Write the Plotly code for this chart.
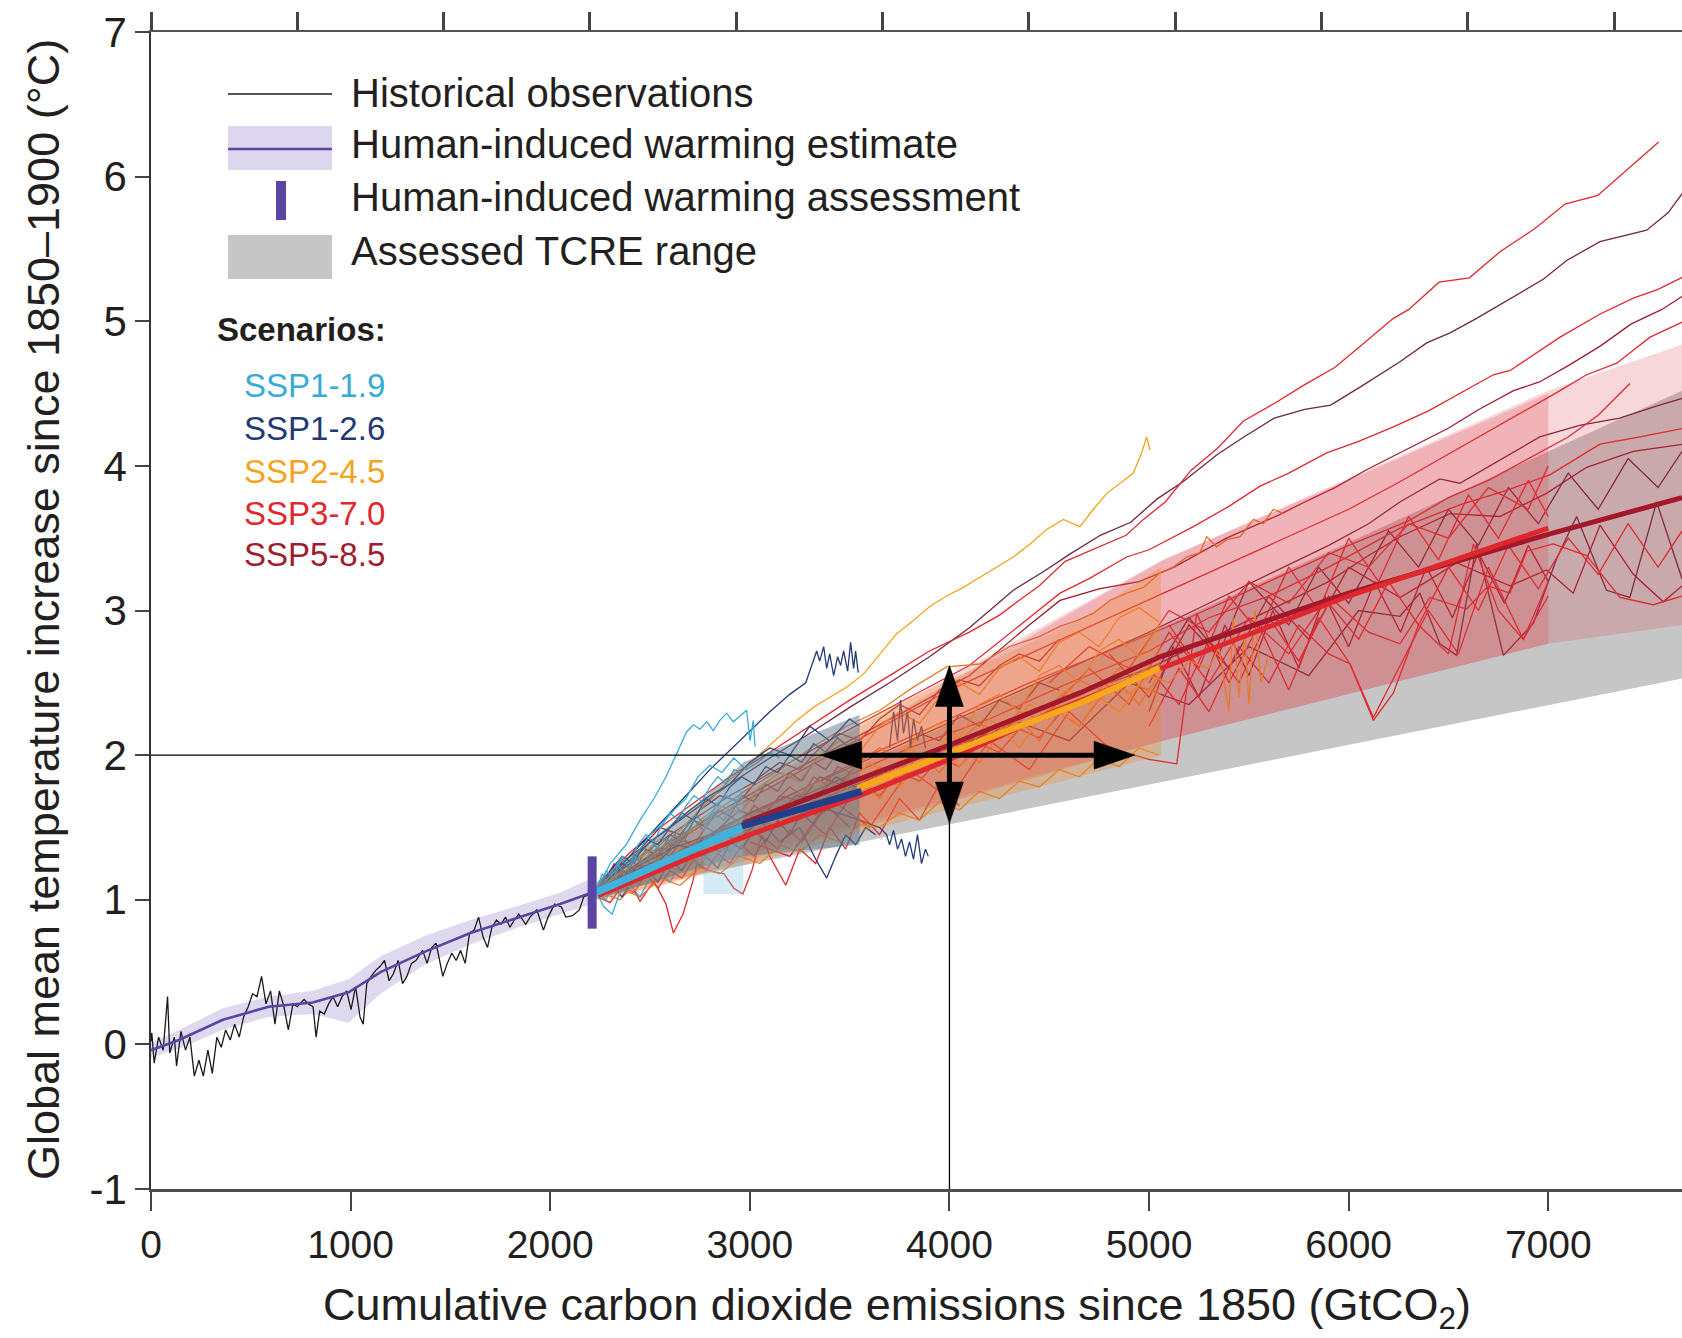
import plotly.graph_objects as go

# ------------------------------------------------------------------ data
# Historical observations (cumulative CO2 since 1850, GtCO2 -> warming degC)
HIST_X = [0, 4, 16, 38, 61, 83, 94, 117, 128, 150, 173, 195, 217, 240, 262, 285, 307, 330, 352, 374,
          397, 419, 442, 464, 487, 509, 531, 554, 576, 599, 621, 643, 666, 688, 711, 733, 767, 789, 812, 827,
          845, 868, 890, 912, 935, 957, 980, 1002, 1025, 1047, 1063, 1081, 1103, 1125, 1148, 1170, 1193, 1215, 1238, 1260,
          1282, 1305, 1327, 1361, 1383, 1406, 1428, 1462, 1484, 1507, 1529, 1551, 1574, 1596, 1619, 1641, 1664, 1686, 1708, 1731,
          1753, 1776, 1798, 1820, 1843, 1877, 1899, 1933, 1966, 1989, 2022, 2056, 2078, 2112, 2146, 2168, 2202]
HIST_Y = [0.02, 0.08, -0.13, 0.05, -0.04, 0.33, -0.06, 0.05, -0.15, 0.09, -0.04, 0.05, -0.22, -0.11, -0.22, -0.04, -0.20, 0.05, -0.02, 0.10,
          0.03, 0.14, 0.05, 0.19, 0.26, 0.35, 0.33, 0.47, 0.28, 0.37, 0.14, 0.37, 0.26, 0.10, 0.28, 0.26, 0.31, 0.28, 0.26, 0.05,
          0.23, 0.21, 0.28, 0.33, 0.26, 0.33, 0.37, 0.24, 0.40, 0.19, 0.14, 0.42, 0.47, 0.51, 0.54, 0.58, 0.44, 0.49, 0.58, 0.42,
          0.47, 0.56, 0.58, 0.65, 0.56, 0.67, 0.70, 0.47, 0.56, 0.63, 0.58, 0.65, 0.56, 0.77, 0.79, 0.88, 0.74, 0.67, 0.81, 0.86,
          0.83, 0.88, 0.81, 0.86, 0.90, 0.83, 0.88, 0.93, 0.79, 0.88, 0.97, 0.95, 0.88, 0.89, 0.93, 1.02, 1.04]

# Human-induced warming estimate and its range
EST_X = [0, 140, 360, 590, 810, 990, 1150, 1370, 1600, 1820, 2050, 2210]
EST_Y = [-0.04, 0.03, 0.17, 0.26, 0.29, 0.36, 0.50, 0.64, 0.77, 0.87, 0.97, 1.05]
EST_LO = [-0.09, -0.03, 0.10, 0.19, 0.21, 0.15, 0.35, 0.55, 0.69, 0.80, 0.90, 0.97]
EST_HI = [0.01, 0.10, 0.25, 0.33, 0.37, 0.45, 0.61, 0.75, 0.86, 0.95, 1.05, 1.15]

# Human-induced warming assessment (vertical bar)
ASSESS_X = [2210, 2210]
ASSESS_Y = [0.80, 1.30]

# Assessed TCRE range (wedge)
TCRE_X = [2210, 7670]
TCRE_LO = [1.03, 2.53]
TCRE_HI = [1.09, 4.52]

# Scenario ranges (shaded)
BAND119_X = [2767, 2968]
BAND119_LO = [1.04, 1.04]
BAND119_HI = [1.60, 1.85]
BAND126_X = [2230, 2767, 2968, 3550]
BAND126_LO = [1.00, 1.23, 1.30, 1.38]
BAND126_HI = [1.12, 1.70, 1.95, 2.28]
BAND245_X = [2250, 3000, 3650, 4650, 5060]
BAND245_LO = [1.00, 1.25, 1.50, 1.85, 2.00]
BAND245_HI = [1.12, 1.75, 2.30, 2.93, 3.30]
BAND370_X = [2300, 5070, 7000]
BAND370_LO = [1.00, 2.10, 2.77]
BAND370_HI = [1.15, 3.35, 4.50]
BAND585_X = [2960, 5070, 7000, 7670]
BAND585_LO = [1.30, 2.10, 2.77, 2.90]
BAND585_HI = [1.75, 3.35, 4.52, 4.84]

# Scenario central estimates (thick lines)
MEAN119_X = [2230, 2500, 2750, 2960]
MEAN119_Y = [1.05, 1.21, 1.37, 1.50]
MEAN126_X = [2960, 3200, 3400, 3560]
MEAN126_Y = [1.51, 1.61, 1.69, 1.75]
MEAN245_X = [3540, 4000, 4654, 5055]
MEAN245_Y = [1.77, 2.01, 2.36, 2.60]
MEAN370_X = [2240, 2700, 3000, 3550, 4000, 4500, 5060, 6000, 7000]
MEAN370_Y = [1.03, 1.29, 1.45, 1.72, 1.97, 2.29, 2.60, 3.10, 3.57]
MEAN585_X = [2967, 3552, 4000, 4654, 5055, 6000, 7008, 7670]
MEAN585_Y = [1.53, 1.84, 2.07, 2.43, 2.68, 3.12, 3.53, 3.78]

# shared x grids of some model runs
XF = [2240, 2300, 2360, 2420, 2480, 2540, 2600, 2660, 2720, 2780, 2840,
      2900, 2960, 3020, 3080, 3140, 3200, 3260, 3320, 3380, 3440, 3500]
XF19 = [2240, 2280, 2320, 2360, 2400, 2440, 2480, 2520, 2560, 2600,
        2640, 2680, 2720, 2760, 2800, 2840, 2880, 2920, 2960]
X45 = [2250, 2350, 2450, 2550, 2650, 2750, 2850, 2950, 3050, 3150, 3250, 3350, 3450, 3550, 3650,
       3750, 3850, 3950, 4050, 4150, 4250, 4350, 4450, 4550, 4650, 4750, 4850, 4950, 5050]
XM = [2250, 2350, 2450, 2550, 2650, 2750, 2850, 2950, 3050, 3150, 3250, 3350,
      3450, 3550, 3650, 3750, 3850, 3950, 4050, 4150, 4250, 4350, 4450, 4550]

# Individual model runs -- SSP1-1.9
SSP119_RUNS = [
    ([2230, 2300, 2380, 2450, 2520, 2580, 2630, 2683, 2717, 2750, 2784, 2817, 2850, 2884, 2917, 2951, 2984, 3001, 3017, 3026],
     [1.05, 1.25, 1.38, 1.55, 1.70, 1.85, 2.00, 2.16, 2.21, 2.18, 2.23, 2.17, 2.24, 2.29, 2.23, 2.27, 2.31, 2.10, 2.24, 2.06]),
    ([2230, 2290, 2350, 2400, 2450, 2500, 2560, 2620, 2680, 2740, 2800, 2860, 2920, 2980, 3040, 3100, 3150],
     [1.05, 1.15, 1.28, 1.22, 1.35, 1.45, 1.52, 1.62, 1.70, 1.85, 1.93, 1.88, 1.98, 1.90, 1.95, 2.02, 1.98]),
    ([2230, 2280, 2330, 2380, 2430, 2480, 2530, 2580, 2630, 2680, 2730, 2780, 2830, 2880, 2930, 2960],
     [1.05, 1.12, 1.05, 1.20, 1.28, 1.22, 1.35, 1.42, 1.38, 1.50, 1.58, 1.52, 1.65, 1.72, 1.68, 1.75]),
    ([2230, 2270, 2310, 2350, 2400, 2450, 2500, 2550, 2600, 2650, 2700, 2750, 2800, 2850, 2900, 2950],
     [1.05, 0.95, 0.90, 1.05, 1.10, 1.02, 1.15, 1.20, 1.12, 1.25, 1.30, 1.22, 1.35, 1.40, 1.33, 1.42]),
    ([2230, 2260, 2300, 2340, 2380, 2420, 2470, 2520, 2570, 2620, 2670, 2720, 2770, 2820, 2870, 2920, 2960],
     [1.05, 1.18, 1.08, 1.25, 1.15, 1.30, 1.25, 1.38, 1.32, 1.45, 1.40, 1.55, 1.48, 1.60, 1.55, 1.66, 1.60]),
    (XF19, [1.05, 1.00, 1.12, 1.06, 1.18, 1.10, 1.22, 1.16, 1.28, 1.20, 1.32, 1.25, 1.38, 1.30, 1.42, 1.35, 1.45, 1.40, 1.50]),
    (XF19, [1.08, 1.20, 1.15, 1.30, 1.25, 1.38, 1.45, 1.40, 1.52, 1.60, 1.55, 1.65, 1.72, 1.68, 1.78, 1.85, 1.80, 1.90, 1.88]),
]

# SSP1-2.6
SSP126_RUNS = [
    ([2230, 2400, 2600, 2800, 2950, 3100, 3200, 3280, 3335, 3350, 3370, 3385, 3400, 3420, 3440, 3455, 3470, 3490, 3505, 3520, 3530, 3543],
     [1.05, 1.30, 1.60, 1.90, 2.10, 2.30, 2.42, 2.50, 2.72, 2.65, 2.75, 2.60, 2.70, 2.55, 2.68, 2.62, 2.72, 2.58, 2.78, 2.60, 2.72, 2.57]),
    ([2230, 2400, 2600, 2800, 3000, 3200, 3400, 3550, 3650, 3685, 3700, 3720, 3740, 3760, 3780, 3800, 3820, 3840, 3860, 3880, 3894],
     [1.05, 1.20, 1.35, 1.45, 1.55, 1.60, 1.62, 1.55, 1.50, 1.45, 1.38, 1.48, 1.35, 1.42, 1.30, 1.40, 1.28, 1.45, 1.25, 1.35, 1.30]),
    ([2230, 2350, 2500, 2650, 2800, 2950, 3050, 3150, 3250, 3330, 3385, 3430, 3480, 3530, 3580, 3630],
     [1.05, 1.15, 1.25, 1.30, 1.45, 1.42, 1.55, 1.40, 1.50, 1.28, 1.15, 1.30, 1.45, 1.38, 1.50, 1.45]),
    ([2230, 2300, 2400, 2500, 2600, 2700, 2800, 2900, 3000, 3100, 3200, 3300, 3400, 3500, 3550],
     [1.05, 1.15, 1.25, 1.40, 1.50, 1.62, 1.72, 1.80, 1.95, 2.05, 2.00, 2.20, 2.10, 2.25, 2.20]),
    ([2230, 2330, 2430, 2530, 2630, 2730, 2830, 2930, 3030, 3130, 3230, 3330, 3430, 3530],
     [1.05, 1.10, 1.20, 1.25, 1.38, 1.35, 1.48, 1.55, 1.62, 1.58, 1.72, 1.70, 1.85, 1.78]),
    ([3700, 3720, 3740, 3755, 3770, 3790, 3805, 3820, 3840, 3860, 3880],
     [2.05, 2.30, 2.10, 2.38, 2.15, 2.30, 2.05, 2.25, 2.10, 2.20, 2.05]),
    (XF, [1.05, 1.12, 1.02, 1.15, 1.22, 1.12, 1.28, 1.20, 1.35, 1.30, 1.22,
          1.40, 1.35, 1.48, 1.40, 1.55, 1.45, 1.60, 1.52, 1.65, 1.58, 1.70]),
    (XF, [1.10, 1.20, 1.30, 1.25, 1.42, 1.38, 1.50, 1.60, 1.55, 1.70, 1.65,
          1.78, 1.85, 1.80, 1.92, 1.88, 2.00, 1.95, 2.08, 2.02, 2.12, 2.05]),
]

# SSP2-4.5
SSP245_RUNS = [
    ([2249, 2316, 2400, 2483, 2567, 2650, 2733, 2817, 2900, 2984, 3068, 3151, 3235, 3318, 3401, 3485, 3569, 3652, 3736, 3819,
      3903, 3986, 4070, 4153, 4237, 4320, 4404, 4487, 4571, 4654, 4721, 4788, 4855, 4921, 4963, 4988, 5005],
     [1.07, 1.16, 1.25, 1.32, 1.37, 1.48, 1.60, 1.71, 1.83, 1.92, 2.03, 2.13, 2.24, 2.33, 2.40, 2.47, 2.56, 2.70, 2.84, 2.93,
      3.03, 3.10, 3.16, 3.23, 3.30, 3.37, 3.46, 3.56, 3.63, 3.58, 3.70, 3.81, 3.88, 3.95, 4.09, 4.20, 4.11]),
    ([2249, 2316, 2483, 2650, 2817, 2984, 3151, 3318, 3485, 3652, 3819, 3986, 4153, 4300, 4450, 4554, 4638, 4721, 4805, 4888,
      4972, 5055, 5122, 5189, 5255, 5289, 5339, 5389, 5456, 5523, 5573, 5623, 5673],
     [1.05, 1.13, 1.27, 1.43, 1.60, 1.76, 1.90, 2.06, 2.20, 2.31, 2.47, 2.61, 2.63, 2.75, 2.82, 2.89, 2.93, 2.98, 3.07, 3.12,
      3.16, 3.26, 3.30, 3.37, 3.40, 3.51, 3.44, 3.49, 3.51, 3.63, 3.60, 3.70, 3.67]),
    (X45, [1.05, 1.12, 1.22, 1.18, 1.35, 1.42, 1.38, 1.55, 1.62, 1.58, 1.75, 1.82, 1.78, 1.95, 2.05,
           1.98, 2.15, 2.22, 2.12, 2.35, 2.42, 2.30, 2.55, 2.62, 2.50, 2.72, 2.80, 2.68, 2.90]),
    (X45, [1.05, 1.00, 1.15, 1.25, 1.20, 1.32, 1.45, 1.40, 1.50, 1.62, 1.55, 1.70, 1.65, 1.80, 1.92,
           1.85, 2.00, 1.95, 2.10, 2.22, 2.15, 2.30, 2.25, 2.40, 2.52, 2.45, 2.60, 2.55, 2.70]),
    (X45, [1.05, 1.15, 1.10, 1.22, 1.30, 1.25, 1.40, 1.52, 1.45, 1.60, 1.55, 1.68, 1.80, 1.72, 1.85,
           1.78, 1.95, 2.05, 1.92, 2.10, 2.20, 2.05, 2.25, 2.35, 2.20, 2.40, 2.30, 2.48, 2.42]),
    (X45, [1.00, 1.08, 1.02, 1.15, 1.10, 1.22, 1.18, 1.30, 1.25, 1.38, 1.33, 1.45, 1.40, 1.52, 1.50,
           1.60, 1.55, 1.68, 1.62, 1.75, 1.70, 1.82, 1.78, 1.90, 1.85, 1.98, 1.92, 2.05, 2.00]),
    (X45, [1.08, 1.20, 1.30, 1.42, 1.38, 1.55, 1.65, 1.60, 1.78, 1.88, 1.82, 2.00, 2.10, 2.02, 2.20,
           2.30, 2.22, 2.40, 2.50, 2.42, 2.60, 2.68, 2.58, 2.78, 2.85, 2.75, 2.95, 3.02, 2.92]),
    (X45, [1.05, 1.10, 1.20, 1.30, 1.25, 1.35, 1.48, 1.42, 1.55, 1.50, 1.65, 1.60, 1.75, 1.85, 1.70,
           1.90, 2.00, 1.88, 2.05, 1.95, 2.15, 2.25, 2.10, 2.30, 2.20, 2.38, 2.50, 2.35, 2.55]),
    ([3500, 3600, 3700, 3800, 3900, 4000, 4100, 4200, 4300, 4400, 4500, 4600, 4700, 4800, 4900, 5000, 5100, 5200, 5300, 5350,
      5400, 5420, 5450, 5480, 5500, 5530, 5560, 5600],
     [1.80, 1.95, 1.85, 2.05, 1.95, 2.15, 2.05, 2.25, 2.15, 2.35, 2.25, 2.45, 2.35, 2.50, 2.42, 2.55, 2.50, 2.65, 2.60, 2.75,
      2.30, 2.95, 2.40, 2.85, 2.35, 3.00, 2.50, 2.70]),
    (XF, [1.05, 1.15, 1.08, 1.22, 1.15, 1.30, 1.22, 1.35, 1.30, 1.42, 1.38,
          1.50, 1.45, 1.58, 1.52, 1.65, 1.60, 1.72, 1.68, 1.80, 1.75, 1.85]),
]

# SSP3-7.0
SSP370_RUNS = [
    ([2300, 2500, 2700, 2900, 3100, 3300, 3500, 3700, 3900, 4100, 4253, 4340, 4449, 4580, 4732, 4885, 4972, 5081, 5211, 5342,
      5473, 5625, 5778, 5930, 6061, 6224, 6300, 6453, 6605, 6758, 6932, 7084, 7248, 7389, 7553],
     [1.20, 1.45, 1.65, 1.85, 2.02, 2.20, 2.38, 2.55, 2.72, 2.85, 2.97, 3.06, 3.17, 3.34, 3.43, 3.52, 3.63, 3.75, 3.97, 4.12,
      4.31, 4.43, 4.56, 4.68, 4.83, 5.02, 5.08, 5.27, 5.30, 5.48, 5.64, 5.81, 5.87, 6.04, 6.24]),
    ([2300, 2600, 2900, 3200, 3500, 3800, 4100, 4400, 4554, 4700, 4888, 5000, 5222, 5400, 5556, 5700, 5890, 6050, 6224, 6400,
      6558, 6725, 6809, 6950, 7059, 7260, 7426, 7550, 7680],
     [1.15, 1.45, 1.72, 1.95, 2.18, 2.40, 2.62, 2.95, 3.12, 3.22, 3.37, 3.42, 3.58, 3.72, 3.86, 3.95, 4.09, 4.17, 4.27, 4.38,
      4.50, 4.63, 4.66, 4.79, 4.89, 5.05, 5.16, 5.22, 5.31]),
    ([2400, 2800, 3200, 3600, 4000, 4400, 4800, 5200, 5600, 6000, 6257, 6424, 6591, 6758, 6925, 7059, 7192, 7343, 7510, 7680],
     [1.20, 1.55, 1.85, 2.15, 2.45, 2.70, 2.95, 3.20, 3.45, 3.70, 3.89, 4.02, 4.15, 4.28, 4.41, 4.52, 4.63, 4.71, 4.89, 5.00]),
    ([2400, 2800, 3200, 3600, 4000, 4400, 4800, 5200, 5600, 6000, 6300, 6500, 6700, 6900, 7100, 7250, 7409],
     [1.15, 1.45, 1.72, 2.00, 2.25, 2.50, 2.72, 2.95, 3.20, 3.45, 3.62, 3.78, 3.90, 4.05, 4.20, 4.35, 4.57]),
    ([3000, 3400, 3800, 4200, 4600, 5000, 5300, 5600, 5900, 6100, 6257, 6557, 6791, 7010, 7259, 7459, 7680],
     [1.55, 1.80, 2.05, 2.25, 2.50, 2.72, 2.95, 3.10, 3.30, 3.45, 3.57, 3.73, 3.83, 3.94, 4.15, 4.20, 4.26]),
    ([4500, 4700, 4900, 5100, 5300, 5500, 5700, 5900, 6100, 6300, 6500, 6700, 6900, 7000],
     [2.50, 2.75, 2.60, 3.00, 2.85, 3.20, 3.05, 3.40, 3.30, 3.60, 3.50, 3.85, 3.70, 4.00]),
    ([3000, 3200, 3400, 3600, 3800, 4000, 4200, 4400, 4600, 4800, 5000, 5139, 5239, 5400, 5550, 5700, 5850, 6007, 6124, 6224,
      6350, 6500, 6625, 6750, 6875, 7000],
     [1.40, 1.30, 1.70, 1.50, 1.90, 1.70, 2.10, 1.90, 2.30, 2.05, 1.97, 1.94, 2.98, 2.50, 2.90, 2.45, 2.95, 2.63, 2.24, 2.43,
      2.90, 2.70, 3.46, 3.00, 2.80, 3.20]),
    ([4500, 4700, 4900, 5100, 5300, 5500, 5700, 5900, 6100, 6257, 6407, 6591, 6700, 6808, 6892, 7025, 7192, 7359, 7526, 7670],
     [2.30, 2.60, 2.35, 2.85, 2.50, 2.95, 2.70, 3.10, 2.85, 2.77, 3.09, 3.01, 3.17, 3.12, 3.41, 3.46, 3.38, 3.09, 3.04, 3.10]),
    ([5000, 5150, 5300, 5450, 5600, 5750, 5900, 6007, 6124, 6250, 6400, 6550, 6700, 6875, 7000],
     [2.20, 2.60, 2.30, 2.75, 2.50, 2.90, 2.70, 2.63, 2.26, 2.60, 3.00, 2.70, 3.30, 2.80, 3.10]),
    ([5100, 5250, 5400, 5550, 5700, 5850, 6000, 6150, 6300, 6450, 6600, 6750, 6900, 7000],
     [2.90, 2.60, 3.10, 2.85, 3.30, 3.00, 3.50, 3.20, 3.65, 3.35, 3.80, 3.50, 3.90, 3.65]),
    ([5000, 5150, 5300, 5450, 5600, 5750, 5900, 6050, 6200, 6350, 6500, 6650, 6800, 6950, 7100, 7250, 7400, 7550, 7670],
     [2.60, 2.35, 2.80, 2.50, 2.95, 2.65, 3.05, 2.80, 3.20, 2.90, 3.30, 3.00, 3.45, 3.15, 3.50, 3.25, 3.60, 3.30, 3.55]),
    ([2240, 2320, 2370, 2450, 2520, 2580, 2617, 2665, 2715, 2735, 2800, 2870, 2920, 2965, 3010, 3060, 3100, 3180, 3250, 3330,
      3400, 3480, 3550, 3650, 3750, 3850, 3950, 4050],
     [1.05, 1.25, 1.20, 0.99, 1.13, 0.97, 0.77, 0.90, 1.13, 1.25, 1.20, 1.18, 1.08, 1.04, 1.20, 1.45, 1.30, 1.10, 1.35, 1.25,
      1.50, 1.35, 1.60, 1.45, 1.70, 1.55, 1.80, 1.65]),
    (XM, [1.05, 1.10, 1.22, 1.18, 1.30, 1.40, 1.33, 1.45, 1.55, 1.50, 1.62, 1.58,
          1.70, 1.80, 1.72, 1.88, 1.82, 1.98, 1.92, 2.08, 2.02, 2.18, 2.12, 2.28]),
    (XF, [1.02, 0.98, 1.10, 1.05, 1.18, 1.08, 1.20, 1.15, 1.28, 1.20, 1.32,
          1.25, 1.38, 1.30, 1.42, 1.35, 1.48, 1.40, 1.52, 1.45, 1.58, 1.50]),
    (XF, [1.05, 1.10, 1.20, 1.15, 1.28, 1.35, 1.30, 1.42, 1.38, 1.50, 1.45,
          1.58, 1.52, 1.65, 1.60, 1.70, 1.78, 1.72, 1.85, 1.80, 1.92, 1.88]),
]

# SSP5-8.5
SSP585_RUNS = [
    ([2300, 2500, 2700, 2900, 3100, 3300, 3500, 3700, 3900, 4100, 4320, 4472, 4603, 4756, 4908, 5039, 5170, 5344, 5475, 5627,
      5780, 5910, 6063, 6257, 6391, 6508, 6641, 6842, 6975, 7092, 7259, 7493, 7600, 7680],
     [1.15, 1.40, 1.60, 1.80, 1.98, 2.15, 2.33, 2.50, 2.68, 2.88, 3.14, 3.27, 3.39, 3.52, 3.61, 3.77, 3.89, 4.08, 4.20, 4.33,
      4.39, 4.42, 4.55, 4.72, 4.85, 4.92, 5.02, 5.18, 5.29, 5.42, 5.55, 5.63, 5.75, 5.90]),
    ([2300, 2600, 2900, 3200, 3500, 3800, 4100, 4400, 4554, 4750, 4950, 5126, 5257, 5388, 5518, 5649, 5780, 5932, 6085, 6216,
      6346, 6499, 6652, 6826, 6956, 7109, 7262, 7414, 7567, 7680],
     [1.12, 1.40, 1.65, 1.88, 2.10, 2.32, 2.55, 2.90, 3.07, 3.15, 3.20, 3.30, 3.40, 3.50, 3.58, 3.66, 3.75, 3.85, 3.97, 4.06,
      4.15, 4.26, 4.39, 4.52, 4.58, 4.70, 4.83, 4.98, 5.08, 5.18]),
    ([3000, 3400, 3800, 4200, 4600, 5000, 5300, 5600, 5900, 6100, 6257, 6457, 6557, 6757, 6957, 7157, 7357, 7557, 7680],
     [1.60, 1.85, 2.10, 2.35, 2.60, 2.85, 3.05, 3.25, 3.45, 3.60, 3.75, 3.91, 3.88, 4.04, 4.20, 4.28, 4.33, 4.42, 4.47]),
    ([3000, 3400, 3800, 4200, 4600, 5000, 5300, 5600, 5900, 6100, 6257, 6507, 6757, 6991, 7192, 7426, 7680],
     [1.50, 1.72, 1.95, 2.15, 2.40, 2.60, 2.80, 3.00, 3.20, 3.38, 3.51, 3.67, 3.65, 3.81, 3.99, 4.10, 4.15]),
    ([4000, 4300, 4600, 4900, 5200, 5500, 5800, 6050, 6257, 6357, 6457, 6541, 6641, 6775, 6925, 7042, 7142, 7292, 7409, 7543, 7670],
     [2.00, 2.25, 2.10, 2.50, 2.35, 2.75, 2.55, 3.00, 2.96, 3.12, 2.77, 2.69, 3.46, 2.69, 2.91, 3.36, 3.65, 3.14, 3.09, 3.75, 3.22]),
    ([4800, 5000, 5200, 5400, 5600, 5800, 6000, 6257, 6391, 6541, 6675, 6808, 6992, 7125, 7259, 7426, 7576, 7670],
     [2.70, 2.40, 2.90, 2.60, 3.10, 2.80, 3.30, 3.09, 3.20, 3.33, 3.25, 3.17, 3.28, 3.12, 3.59, 3.25, 3.06, 3.17]),
    ([5000, 5200, 5350, 5500, 5700, 5850, 6000, 6200, 6350, 6500, 6650, 6800, 6950, 7100, 7250, 7400, 7550, 7670],
     [2.50, 2.95, 2.70, 3.20, 2.90, 3.30, 3.05, 3.55, 3.30, 3.70, 3.45, 3.85, 3.60, 3.95, 3.70, 4.05, 3.85, 4.10]),
    ([5000, 5120, 5250, 5380, 5500, 5620, 5750, 5880, 6000, 6130, 6260, 6390, 6520, 6650, 6780, 6900, 7000],
     [2.30, 2.75, 2.40, 2.90, 2.55, 3.00, 2.60, 3.10, 2.75, 3.20, 2.85, 3.30, 2.95, 3.40, 3.05, 3.45, 3.20]),
    (XM, [1.08, 1.20, 1.15, 1.30, 1.42, 1.35, 1.50, 1.62, 1.55, 1.72, 1.68, 1.85,
          1.80, 1.95, 2.05, 1.98, 2.15, 2.10, 2.28, 2.20, 2.38, 2.32, 2.50, 2.45]),
    (XM, [1.10, 1.25, 1.35, 1.50, 1.45, 1.62, 1.72, 1.68, 1.85, 1.95, 1.90, 2.05,
          2.15, 2.10, 2.25, 2.35, 2.28, 2.45, 2.52, 2.48, 2.62, 2.70, 2.65, 2.80]),
    (XF, [1.08, 1.18, 1.25, 1.20, 1.35, 1.30, 1.45, 1.40, 1.55, 1.50, 1.62,
          1.58, 1.72, 1.68, 1.80, 1.75, 1.88, 1.82, 1.95, 1.90, 2.02, 1.98]),
]

SCENARIO_LABELS = ["SSP1-1.9", "SSP1-2.6", "SSP2-4.5", "SSP3-7.0", "SSP5-8.5"]
X_TICKS = [0, 1000, 2000, 3000, 4000, 5000, 6000, 7000]
Y_TICKS = [-1, 0, 1, 2, 3, 4, 5, 6, 7]
Y_TICK_TEXT = ["-1", "0", "1", "2", "3", "4", "5", "6", "7"]

# Reference cross-hair: 2 degC line, 4000 GtCO2 line, and the two double arrows
CROSS_X = 4000
CROSS_Y = 2.0
ARROW_H = (3355, 4930)   # x extent of horizontal double arrow at CROSS_Y
ARROW_V = (1.53, 2.62)   # y extent of vertical double arrow at CROSS_X

# ------------------------------------------------------------------ style
W, H = 1682, 1338
ML, MR, MT, MB = 151, 0, 32, 149
PLOT_W = W - ML - MR
PLOT_H = H - MT - MB
X_RANGE = [0, 7670]
Y_RANGE = [-1, 7]
TOP_TICK_STEP = 733  # unlabeled ticks of the top frame

FONT = "Liberation Sans, Arial, Helvetica, sans-serif"
TXT = "#231f20"

C119 = "#37abd8"
C126 = "#1f3a74"
C245 = "#f3a31f"
C245B = "#e57f27"
C370 = "#e1272e"
C585 = "#9d1d2e"
C585B = "#6e2642"
PURPLE = "#5a45a2"
LAVENDER = "rgba(178,165,218,0.42)"
GREY = "#c6c6c6"

fig = go.Figure()


def add_line(x, y, color, width, opacity=1.0):
    fig.add_trace(go.Scatter(x=x, y=y, mode="lines", line=dict(color=color, width=width),
                             opacity=opacity, hoverinfo="skip", showlegend=False))


def add_band(x, lo, hi, fillcolor):
    fig.add_trace(go.Scatter(x=list(x) + list(x)[::-1], y=list(hi) + list(lo)[::-1], mode="lines",
                             fill="toself", fillcolor=fillcolor, line=dict(width=0),
                             hoverinfo="skip", showlegend=False))


# TCRE wedge
add_band(TCRE_X, TCRE_LO, TCRE_HI, GREY)
# human-induced estimate range
add_band(EST_X, EST_LO, EST_HI, LAVENDER)

# individual runs
for i, (x, y) in enumerate(SSP585_RUNS):
    add_line(x, y, C585 if i % 2 else C585B, 1.3)
for x, y in SSP370_RUNS:
    add_line(x, y, C370, 1.3)
for i, (x, y) in enumerate(SSP245_RUNS):
    add_line(x, y, C245 if i % 2 == 0 else C245B, 1.3)
for x, y in SSP126_RUNS:
    add_line(x, y, C126, 1.3)
for x, y in SSP119_RUNS:
    add_line(x, y, C119, 1.3)

# scenario ranges drawn over the runs
add_band(BAND585_X, BAND585_LO, BAND585_HI, "rgba(215,55,65,0.20)")
add_band(BAND370_X, BAND370_LO, BAND370_HI, "rgba(225,55,65,0.22)")
add_band(BAND245_X, BAND245_LO, BAND245_HI, "rgba(238,140,50,0.32)")
add_band(BAND126_X, BAND126_LO, BAND126_HI, "rgba(95,122,140,0.50)")
add_band(BAND119_X, BAND119_LO, BAND119_HI, "rgba(120,190,222,0.30)")

# observations and estimate
add_line(HIST_X, HIST_Y, "#1a1a1a", 1.3)
add_line(EST_X, EST_Y, PURPLE, 2.6)

# central estimates
add_line(MEAN585_X, MEAN585_Y, "#a3182a", 5)
add_line(MEAN370_X, MEAN370_Y, C370, 5)
add_line(MEAN245_X, MEAN245_Y, "#f7a81b", 6)
add_line(MEAN126_X, MEAN126_Y, "#213f8a", 7)
add_line(MEAN119_X, MEAN119_Y, "#3db3e0", 7)

# assessment bar
add_line(ASSESS_X, ASSESS_Y, PURPLE, 9)

# dummy trace for the top frame axis
fig.add_trace(go.Scatter(x=[None], y=[None], xaxis="x2", showlegend=False, hoverinfo="skip"))

# ------------------------------------------------------------------ cross-hair and arrows
PX_X = PLOT_W / (X_RANGE[1] - X_RANGE[0])
PX_Y = PLOT_H / (Y_RANGE[1] - Y_RANGE[0])
HEAD_LEN = 41
HEAD_HALF = 14
SHAFT_W = 5

shapes = []
shapes.append(dict(type="line", xref="x", yref="y", x0=X_RANGE[0], x1=CROSS_X, y0=CROSS_Y, y1=CROSS_Y,
                   line=dict(color="black", width=1.3), layer="above"))
shapes.append(dict(type="line", xref="x", yref="y", x0=CROSS_X, x1=CROSS_X, y0=Y_RANGE[0], y1=CROSS_Y,
                   line=dict(color="black", width=1.3), layer="above"))

hl = HEAD_LEN / PX_X
hh = HEAD_HALF / PX_Y
shapes.append(dict(type="line", xref="x", yref="y", x0=ARROW_H[0] + hl * 0.9, x1=ARROW_H[1] - hl * 0.9,
                   y0=CROSS_Y, y1=CROSS_Y, line=dict(color="black", width=SHAFT_W), layer="above"))
for tip, sgn in ((ARROW_H[0], 1), (ARROW_H[1], -1)):
    base = tip + sgn * hl
    shapes.append(dict(type="path", xref="x", yref="y",
                       path=f"M {tip},{CROSS_Y} L {base},{CROSS_Y + hh} L {base},{CROSS_Y - hh} Z",
                       fillcolor="black", line=dict(color="black", width=0.5), layer="above"))
vl = HEAD_LEN / PX_Y
vh = HEAD_HALF / PX_X
shapes.append(dict(type="line", xref="x", yref="y", x0=CROSS_X, x1=CROSS_X, y0=ARROW_V[0] + vl * 0.9,
                   y1=ARROW_V[1] - vl * 0.9, line=dict(color="black", width=SHAFT_W), layer="above"))
for tip, sgn in ((ARROW_V[0], 1), (ARROW_V[1], -1)):
    base = tip + sgn * vl
    shapes.append(dict(type="path", xref="x", yref="y",
                       path=f"M {CROSS_X},{tip} L {CROSS_X + vh},{base} L {CROSS_X - vh},{base} Z",
                       fillcolor="black", line=dict(color="black", width=0.5), layer="above"))


# ------------------------------------------------------------------ legend (drawn)
def px(xp):
    return (xp - ML) / PLOT_W


def py(yp):
    return (H - MB - yp) / PLOT_H


shapes.append(dict(type="line", xref="paper", yref="paper", x0=px(228), x1=px(332), y0=py(94), y1=py(94),
                   line=dict(color="#1a1a1a", width=1.3)))
shapes.append(dict(type="rect", xref="paper", yref="paper", x0=px(228), x1=px(332), y0=py(170), y1=py(126),
                   fillcolor="#dcd7ee", line=dict(width=0)))
shapes.append(dict(type="line", xref="paper", yref="paper", x0=px(228), x1=px(332), y0=py(149), y1=py(149),
                   line=dict(color=PURPLE, width=2.6)))
shapes.append(dict(type="rect", xref="paper", yref="paper", x0=px(276), x1=px(286), y0=py(220), y1=py(181),
                   fillcolor=PURPLE, line=dict(width=0)))
shapes.append(dict(type="rect", xref="paper", yref="paper", x0=px(228), x1=px(332), y0=py(279), y1=py(235),
                   fillcolor=GREY, line=dict(width=0)))

annotations = []
LEG_FONT = dict(family=FONT, size=40, color=TXT)
for text, ypix in (("Historical observations", 93), ("Human-induced warming estimate", 144),
                   ("Human-induced warming assessment", 197), ("Assessed TCRE range", 251)):
    annotations.append(dict(text=text, xref="paper", yref="paper", x=px(349), y=py(ypix),
                            xanchor="left", yanchor="middle", showarrow=False, font=LEG_FONT))
annotations.append(dict(text="<b>Scenarios:</b>", xref="paper", yref="paper", x=px(215), y=py(329),
                        xanchor="left", yanchor="middle", showarrow=False,
                        font=dict(family=FONT, size=33, color=TXT)))
for label, col, ypix in zip(SCENARIO_LABELS, [C119, C126, C245, C370, C585], [385, 428, 471, 513, 554]):
    annotations.append(dict(text=label, xref="paper", yref="paper", x=px(242), y=py(ypix),
                            xanchor="left", yanchor="middle", showarrow=False,
                            font=dict(family=FONT, size=33, color=col)))

# axis titles
annotations.append(dict(text="Global mean temperature increase since 1850\u20131900 (\u00b0C)",
                        xref="paper", yref="paper", x=px(43), y=py(610), textangle=-90,
                        xanchor="center", yanchor="middle", showarrow=False,
                        font=dict(family=FONT, size=45, color=TXT)))
annotations.append(dict(text="Cumulative carbon dioxide emissions since 1850 (GtCO<sub>2</sub>)",
                        xref="paper", yref="paper", x=px(897), y=py(1307),
                        xanchor="center", yanchor="middle", showarrow=False,
                        font=dict(family=FONT, size=45, color=TXT)))

fig.update_layout(
    width=W, height=H,
    margin=dict(l=ML, r=MR, t=MT, b=MB, pad=0),
    paper_bgcolor="white", plot_bgcolor="white",
    showlegend=False,
    shapes=shapes, annotations=annotations,
    xaxis=dict(range=X_RANGE, tickvals=X_TICKS, ticks="outside", ticklen=19, tickwidth=1.6,
               tickcolor="#444", showline=True, linecolor="#4d4d4d", linewidth=3,
               showgrid=False, zeroline=False, tickfont=dict(family=FONT, size=39, color=TXT)),
    xaxis2=dict(range=X_RANGE, overlaying="x", side="top", anchor="y",
                tickvals=[i * TOP_TICK_STEP for i in range(11)], ticks="outside", ticklen=18,
                tickwidth=2.5, tickcolor="#444", showticklabels=False, showline=True,
                linecolor="#555", linewidth=2, showgrid=False, zeroline=False),
    yaxis=dict(range=Y_RANGE, tickvals=Y_TICKS, ticktext=Y_TICK_TEXT, ticks="outside", ticklen=14,
               tickwidth=1.6, tickcolor="#444", showline=True, linecolor="#333", linewidth=1.6,
               showgrid=False, zeroline=False, tickfont=dict(family=FONT, size=42, color=TXT)),
)

fig.write_html("out.html", config={"displayModeBar": False},
               post_script="document.body.style.margin='0px';")
